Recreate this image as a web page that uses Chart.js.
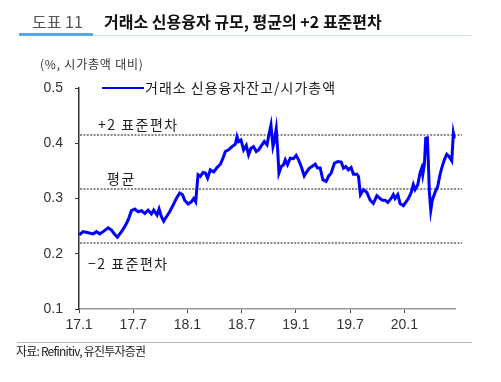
<!DOCTYPE html>
<html><head><meta charset="utf-8">
<script src="https://cdn.jsdelivr.net/npm/chart.js@4.4.1/dist/chart.umd.min.js"></script>
<style>
html,body{margin:0;padding:0;background:#fff;width:501px;height:382px;overflow:hidden;}
#wrap{position:relative;width:501px;height:382px;}
canvas{position:absolute;left:0;top:0;}
.t{position:absolute;white-space:nowrap;font-family:"Noto Sans CJK KR","Noto Sans",sans-serif;}
.ln{position:absolute;}
</style></head><body>
<div id="wrap">
<canvas id="c" width="501" height="382"></canvas>
<div class="t" style="left:32px;top:12px;font-size:16px;line-height:18px;color:#555;">도표 11</div>
<div class="t" style="left:104px;top:12px;font-size:16px;line-height:18px;color:#111;font-weight:bold;">거래소 신용융자 규모, 평균의 +2 표준편차</div>
<div class="ln" style="left:19px;top:35px;width:453px;height:1px;background:#d3e6f6;"></div>
<div class="ln" style="left:19px;top:33px;width:74px;height:3px;background:#5aa5e6;"></div>
<div class="t" style="left:40px;top:56px;font-size:12px;line-height:16px;color:#333;letter-spacing:0.8px;">(%, 시가총액 대비)</div>
<div class="ln" style="left:17px;top:342px;width:455px;height:1px;background:#bbb;"></div>
<div class="t" style="left:16px;top:343px;font-size:12px;line-height:16px;color:#222;letter-spacing:-0.8px;">자료: Refinitiv, 유진투자증권</div>
</div>
<script>
// x positions: months elapsed since Jan 2017 (17.1 = 0)
const months = [0.02,0.46,1.02,1.57,1.93,2.30,2.67,3.23,3.59,3.96,4.25,4.70,5.06,5.44,5.80,6.17,6.54,6.91,7.27,7.65,8.01,8.27,8.64,8.86,9.12,9.37,9.67,10.03,10.41,10.77,11.14,11.44,11.69,12.07,12.43,12.69,12.91,13.06,13.17,13.43,13.72,13.98,14.23,14.53,14.90,15.27,15.64,15.93,16.19,16.55,16.93,17.29,17.48,17.66,17.92,18.21,18.51,18.76,19.03,19.31,19.61,19.87,20.24,20.50,20.80,20.97,21.24,21.46,21.60,21.82,21.97,22.12,22.38,22.63,22.82,23.07,23.37,23.73,24.03,24.29,24.59,24.92,25.22,25.50,25.77,26.13,26.39,26.69,26.98,27.35,27.60,27.90,28.27,28.64,29.01,29.26,29.52,29.81,30.11,30.36,30.74,30.92,31.14,31.47,31.85,32.21,32.57,32.95,33.31,33.57,33.87,34.17,34.53,34.78,34.97,35.27,35.52,35.89,36.15,36.44,36.74,36.99,37.18,37.48,37.73,37.92,38.03,38.21,38.36,38.54,38.65,38.76,38.92,39.09,39.39,39.69,39.94,40.13,40.42,40.69,40.94,41.24,41.42,41.53];
// 거래소 신용융자잔고 / 시가총액 (%)
const ratio = [0.234,0.240,0.238,0.236,0.240,0.236,0.240,0.247,0.243,0.235,0.230,0.240,0.249,0.261,0.278,0.281,0.276,0.278,0.273,0.279,0.272,0.279,0.270,0.281,0.267,0.259,0.267,0.276,0.288,0.300,0.310,0.307,0.297,0.290,0.294,0.300,0.294,0.322,0.343,0.340,0.347,0.346,0.337,0.352,0.348,0.356,0.362,0.373,0.385,0.388,0.394,0.398,0.412,0.403,0.406,0.388,0.396,0.379,0.391,0.394,0.385,0.388,0.397,0.403,0.397,0.412,0.433,0.394,0.403,0.426,0.391,0.346,0.358,0.361,0.370,0.361,0.373,0.372,0.378,0.370,0.358,0.341,0.349,0.355,0.358,0.362,0.355,0.355,0.334,0.331,0.340,0.346,0.364,0.367,0.366,0.355,0.358,0.352,0.356,0.344,0.344,0.340,0.307,0.316,0.311,0.297,0.291,0.305,0.300,0.297,0.297,0.293,0.300,0.307,0.300,0.307,0.291,0.287,0.293,0.300,0.310,0.325,0.316,0.325,0.346,0.355,0.343,0.361,0.409,0.410,0.367,0.313,0.279,0.297,0.311,0.322,0.343,0.355,0.370,0.380,0.376,0.368,0.418,0.409];
const seriesName = '거래소 신용융자잔고/시가총액';
const xTickMonths = [0,6,12,18,24,30,36];
const xTickLabels = ['17.1','17.7','18.1','18.7','19.1','19.7','20.1'];
const yTicks = [0.1,0.2,0.3,0.4,0.5];
const refLevels = [0.415,0.317,0.219];
const refLabels = ['+2 표준편차','평균','\u22122 표준편차'];

const KFONT = '"Noto Sans CJK KR","Noto Sans",sans-serif';
Chart.defaults.font.family = '"Liberation Sans",Arial,sans-serif';

const refPlugin = {
  id: 'refs',
  beforeDatasetsDraw(chart) {
    const {ctx, chartArea: a, scales: {y}} = chart;
    ctx.save();
    ctx.strokeStyle = '#8a8a8a';
    ctx.lineWidth = 2;
    ctx.setLineDash([2, 1.4]);
    refLevels.forEach(v => {
      const py = Math.round(y.getPixelForValue(v));
      ctx.beginPath();
      ctx.moveTo(a.left + 1, py);
      ctx.lineTo(a.right + 7, py);
      ctx.stroke();
    });
    ctx.restore();
  },
  afterDatasetsDraw(chart) {
    const {ctx, chartArea: a, scales: {y}} = chart;
    ctx.save();
    ctx.fillStyle = '#222';
    ctx.font = '14px ' + KFONT;
    ctx.letterSpacing = '1.5px';
    ctx.textBaseline = 'middle';
    ctx.textAlign = 'left';
    const offs = [[19, -10], [28, -10], [9, 20]];
    refLevels.forEach((v, i) => {
      const py = y.getPixelForValue(v);
      ctx.fillText(refLabels[i], a.left + offs[i][0], py + offs[i][1]);
    });
    // legend
    const ds = chart.data.datasets[0];
    const ly = a.top;
    ctx.strokeStyle = ds.borderColor;
    ctx.lineWidth = 2;
    ctx.beginPath();
    ctx.moveTo(a.left + 23, ly);
    ctx.lineTo(a.left + 65, ly);
    ctx.stroke();
    ctx.fillStyle = '#222';
    ctx.letterSpacing = '1px';
    ctx.fillText(ds.label, a.left + 66, ly);
    ctx.restore();
  }
};

new Chart(document.getElementById('c'), {
  type: 'line',
  data: {
    datasets: [{
      label: seriesName,
      data: months.map((m, i) => ({x: m, y: ratio[i]})),
      borderColor: '#0000ff',
      borderWidth: 3,
      pointRadius: 0,
      tension: 0,
      clip: false
    }]
  },
  options: {
    responsive: false,
    animation: false,
    layout: {padding: {left: 0, top: 88, right: 46, bottom: 48}},
    plugins: {legend: {display: false}, tooltip: {enabled: false}},
    scales: {
      x: {
        type: 'linear', min: 0, max: 41.6,
        afterBuildTicks: s => { s.ticks = xTickMonths.map(v => ({value: v})); },
        afterFit: s => { s.height = 25; },
        ticks: {
          autoSkip: false, maxRotation: 0, padding: 4,
          color: '#333', font: {size: 14},
          callback: (v, i) => xTickLabels[i]
        },
        grid: {drawOnChartArea: false, drawTicks: true, tickLength: 4, color: '#444'},
        border: {color: '#999', width: 1.5}
      },
      y: {
        min: 0.1, max: 0.5,
        afterBuildTicks: s => { s.ticks = yTicks.map(v => ({value: v})); },
        afterFit: s => { s.width = 79; },
        ticks: {
          padding: 12, color: '#333', font: {size: 14},
          callback: v => v.toFixed(1)
        },
        grid: {drawOnChartArea: false, drawTicks: true, tickLength: 4, color: '#333'},
        border: {color: '#333', width: 1.5}
      }
    }
  },
  plugins: [refPlugin]
});
</script>
</body></html>
